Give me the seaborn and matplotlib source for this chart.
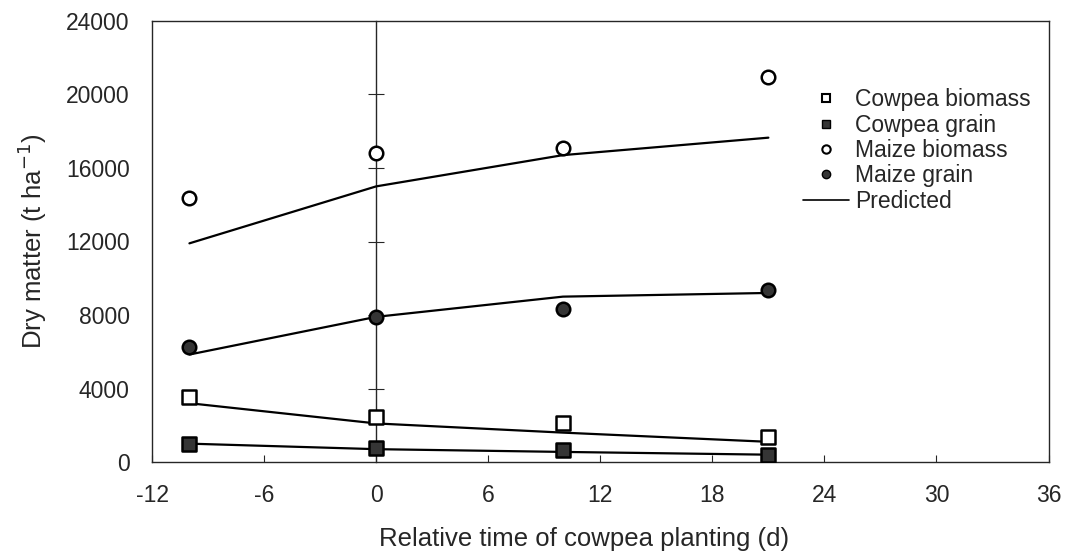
"""
Dry matter of cowpea and maize vs relative time of cowpea planting
- observed values as markers, model prediction as lines
- saves out.png
"""

import pandas as pd
import matplotlib.pyplot as plt
from matplotlib.lines import Line2D
import seaborn as sns

# -----------------------------
# Data
# -----------------------------
days = [-10, 0, 10, 21]

cowpea_biomass_obs = [3550, 2450, 2100, 1370]
cowpea_grain_obs = [980, 750, 650, 380]
maize_biomass_obs = [14350, 16800, 17100, 20950]
maize_grain_obs = [6250, 7900, 8300, 9350]

cowpea_biomass_pred = [3200, 2100, 1600, 1100]
cowpea_grain_pred = [1000, 700, 550, 400]
maize_biomass_pred = [11900, 15000, 16700, 17650]
maize_grain_pred = [5850, 7900, 9000, 9200]

series = ["Cowpea biomass", "Cowpea grain", "Maize biomass", "Maize grain"]
x_ticks = [-12, -6, 0, 6, 12, 18, 24, 30, 36]
y_ticks = [0, 4000, 8000, 12000, 16000, 20000, 24000]

obs = pd.DataFrame({
    "day": days * 4,
    "series": [s for s in series for _ in days],
    "value": cowpea_biomass_obs + cowpea_grain_obs + maize_biomass_obs + maize_grain_obs,
})
pred = pd.DataFrame({
    "day": days * 4,
    "series": [s for s in series for _ in days],
    "value": cowpea_biomass_pred + cowpea_grain_pred + maize_biomass_pred + maize_grain_pred,
})

# -----------------------------
# Style
# -----------------------------
sns.set_style("ticks")
plt.rcParams["font.family"] = ["Liberation Sans", "DejaVu Sans"]

dark = "#353535"
markers = {"Cowpea biomass": "s", "Cowpea grain": "s",
           "Maize biomass": "o", "Maize grain": "o"}
faces = {"Cowpea biomass": "white", "Cowpea grain": dark,
         "Maize biomass": "white", "Maize grain": dark}

fig, ax = plt.subplots(figsize=(10.71, 5.52), dpi=100)
fig.subplots_adjust(left=0.142, right=0.979, top=0.962, bottom=0.163)

# predicted lines
sns.lineplot(data=pred, x="day", y="value", units="series", estimator=None,
             color="black", linewidth=1.6, ax=ax, legend=False)

# observed points
for s in series:
    d = obs[obs["series"] == s]
    sns.scatterplot(data=d, x="day", y="value", marker=markers[s], s=95,
                    facecolor=faces[s], edgecolor="black", linewidth=1.8,
                    ax=ax, zorder=5, legend=False)

ax.set_xlim(-12, 36)
ax.set_ylim(0, 24000)
ax.set_xticks(x_ticks)
ax.set_yticks(y_ticks)
ax.set_xticklabels([str(t) for t in x_ticks])
ax.tick_params(axis="y", length=0, labelsize=16.5, pad=16)
ax.tick_params(axis="x", direction="in", length=5, labelsize=16.5, pad=16)
for sp in ax.spines.values():
    sp.set_visible(True)
    sp.set_linewidth(1.0)

ax.set_xlabel("Relative time of cowpea planting (d)", fontsize=18.5)
ax.xaxis.set_label_coords(0.482, -0.147)
ax.set_ylabel("Dry matter (t ha$^{-1}$)", fontsize=18.5, labelpad=12)

# value axis crossing at day 0 (Excel style)
ax2 = ax.twinx()
ax2.set_ylim(ax.get_ylim())
for name in ["left", "top", "bottom"]:
    ax2.spines[name].set_visible(False)
ax2.spines["right"].set_position(("data", 0))
ax2.spines["right"].set_linewidth(1.0)
ax2.set_yticks(y_ticks[1:-1])
ax2.tick_params(axis="y", direction="inout", length=11, labelright=False)
ax2.set_zorder(ax.get_zorder() - 1)
ax.patch.set_visible(False)

# legend
handles = [
    Line2D([], [], linestyle="none", marker="s", markersize=6,
           markerfacecolor="white", markeredgecolor="black", markeredgewidth=1.5),
    Line2D([], [], linestyle="none", marker="s", markersize=6,
           markerfacecolor=dark, markeredgecolor="black", markeredgewidth=1.0),
    Line2D([], [], linestyle="none", marker="o", markersize=6,
           markerfacecolor="white", markeredgecolor="black", markeredgewidth=1.5),
    Line2D([], [], linestyle="none", marker="o", markersize=6,
           markerfacecolor=dark, markeredgecolor="black", markeredgewidth=1.0),
    Line2D([], [], color="black", linewidth=1.2),
]
labels = series + ["Predicted"]
ax.legend(handles, labels, loc="upper left", bbox_to_anchor=(0.713, 0.873),
          frameon=False, fontsize=16.5, handlelength=2.0, handletextpad=0.3,
          labelspacing=0.1, borderpad=0)

plt.savefig("out.png", dpi=100)
plt.close()
